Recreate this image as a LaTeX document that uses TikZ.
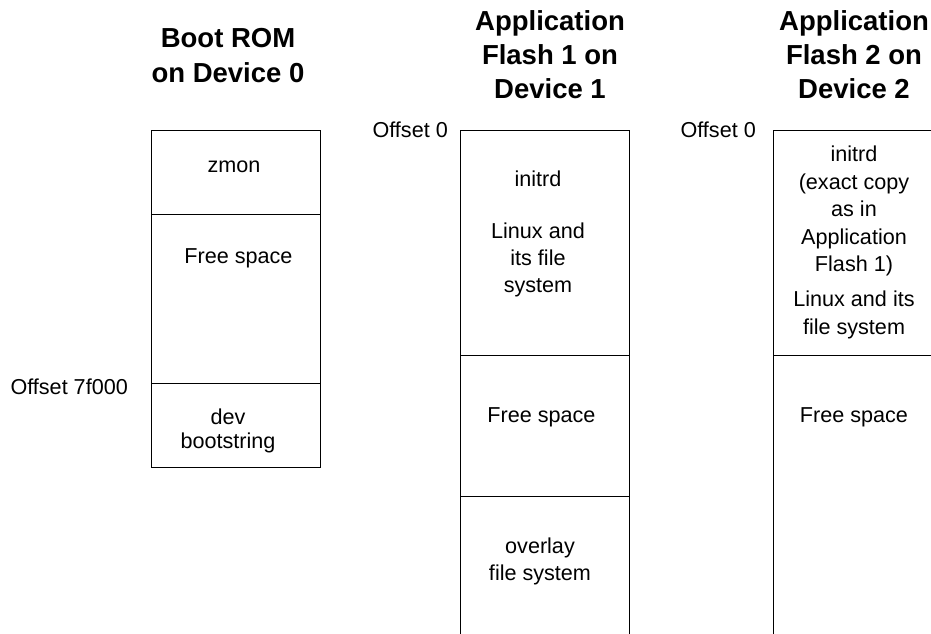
\documentclass[tikz,border=0pt]{standalone}
\usepackage{fontspec}
\setmainfont{Liberation Sans}
\begin{document}
\begin{tikzpicture}[x=1pt,y=-1pt,
  box/.style={draw=black, line width=1pt},
  body/.style={font=\fontsize{21.6}{26.6}\selectfont, align=center, inner sep=0pt, anchor=base},
  bodyb/.style={font=\fontsize{21.6}{27.5}\selectfont, align=center, inner sep=0pt, anchor=base},
  bodyc/.style={font=\fontsize{21.6}{24}\selectfont, align=center, inner sep=0pt, anchor=base},
  titlea/.style={font=\fontsize{27.5}{35}\selectfont\bfseries, align=center, inner sep=0pt, anchor=base},
  title/.style={font=\fontsize{27.5}{34}\selectfont\bfseries, align=center, inner sep=0pt, anchor=base},
  off/.style={font=\fontsize{21.6}{26.6}\selectfont, inner sep=0pt, anchor=base east}]
\useasboundingbox (0,0) rectangle (931,633);
\clip (0,0) rectangle (931,633);

% titles (anchor = baseline of the last line)
\node[titlea] (t0) at (228,82) {Boot ROM\\on Device 0};
\node[title] (t1) at (550,98) {Application\\Flash 1 on\\Device 1};
\node[title] (t2) at (854,98) {Application\\Flash 2 on\\Device 2};

% column 1: Boot ROM
\coordinate (c0a) at (151,130);
\coordinate (c0b) at (320,214);
\coordinate (c0c) at (320,383);
\coordinate (c0d) at (320,467);
\draw[box] (c0a) rectangle (c0d);
\draw[box] (151,214) -- (c0b);
\draw[box] (151,383) -- (c0c);
\node[body] (zmon) at (234,172) {zmon};
\node[body] (free0) at (238.5,263) {Free space};
\node[bodyc] (dev) at (228,448) {dev\\bootstring};
\node[off] (off7f) at (128,394) {Offset 7f000};

% column 2: Application Flash 1
\coordinate (c1tl) at (460,130);
\coordinate (c1tr) at (629,130);
\draw[box] (460,640) -- (c1tl) -- (c1tr) -- (629,640);
\draw[box] (460,355) -- (629,355);
\draw[box] (460,496) -- (629,496);
\node[body] (initrd1) at (538,292) {initrd\\[-1.3pt]\\Linux and\\its file\\system};
\node[body] (free1) at (541.5,422) {Free space};
\node[body] (overlay) at (540,580) {overlay\\file system};
\node[off] (off01) at (448,137) {Offset 0};

% column 3: Application Flash 2
\coordinate (c2tl) at (773,130);
\draw[box] (773,640) -- (c2tl) -- (945,130);
\draw[box] (773,355) -- (945,355);
\node[bodyb] (initrd2) at (854,334) {initrd\\(exact copy\\as in\\Application\\Flash 1)\\[7.5pt]Linux and its\\file system};
\node[body] (free2) at (854,422) {Free space};
\node[off] (off02) at (756,137) {Offset 0};
\end{tikzpicture}
\end{document}
